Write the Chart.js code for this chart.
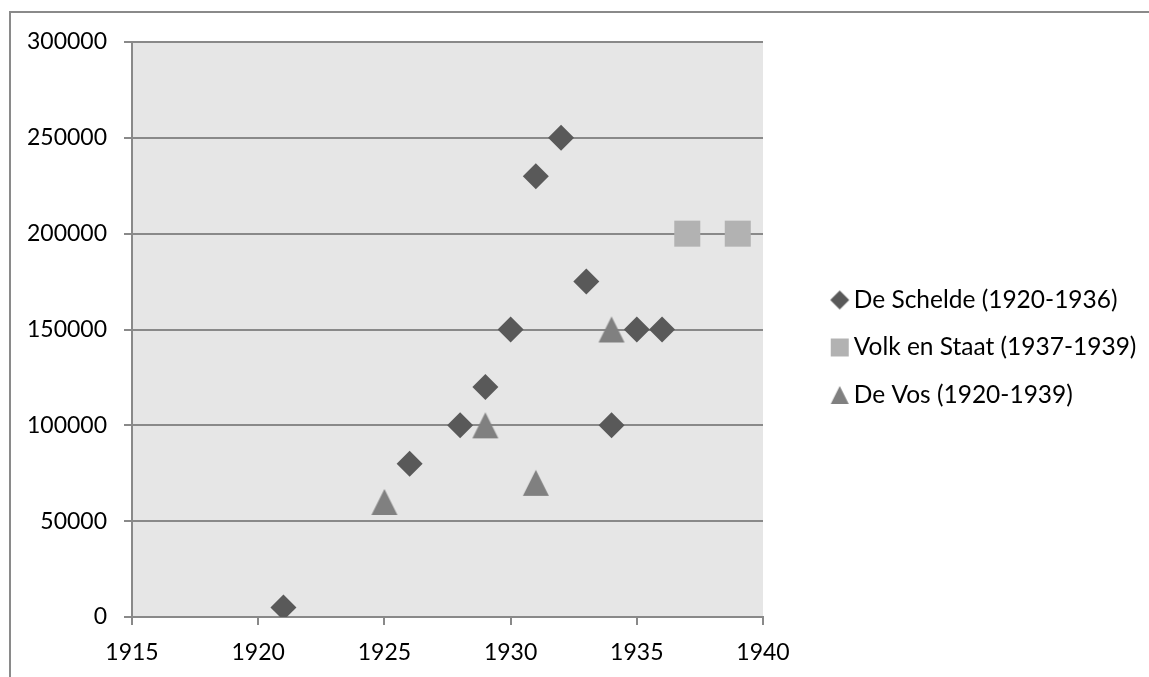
<!DOCTYPE html>
<html>
<head>
<meta charset="utf-8">
<script src="https://cdn.jsdelivr.net/npm/chart.js@4.4.1/dist/chart.umd.min.js"></script>
<style>
  html, body { margin: 0; padding: 0; background: #fff; overflow: hidden; }
  .wrap { position: relative; width: 1149px; height: 677px; }
  .frame { position: absolute; left: 9px; top: 11px; width: 1160px; height: 700px; border: 2px solid #8a8a8a; }
  canvas { position: absolute; left: 0; top: 0; }
</style>
</head>
<body>
<div class="wrap">
  <div class="frame"></div>
  <canvas id="chart" width="1149" height="677"></canvas>
</div>
<script>
  // series values
  const scheldeYears = [1921, 1926, 1928, 1929, 1930, 1931, 1932, 1933, 1934, 1935, 1936];
  const scheldeValues = [5000, 80000, 100000, 120000, 150000, 230000, 250000, 175000, 100000, 150000, 150000];
  const volkYears = [1937, 1939];
  const volkValues = [200000, 200000];
  const vosYears = [1925, 1929, 1931, 1934];
  const vosValues = [60000, 100000, 70000, 150000];

  const seriesNames = ['De Schelde (1920-1936)', 'Volk en Staat (1937-1939)', 'De Vos (1920-1939)'];
  const seriesColors = ['#595959', '#b2b2b2', '#808080'];

  const xTicks = [1915, 1920, 1925, 1930, 1935, 1940];
  const yTicks = [0, 50000, 100000, 150000, 200000, 250000, 300000];

  const FONT = 'Lato';
  const FONT_SIZE = 23;
  const LEGEND_SIZE = 24.5;
  const GRID = '#898989';

  function toPoints(xs, ys) {
    return xs.map((x, i) => ({x: x, y: ys[i]}));
  }

  // draws a small marker into its own canvas, so it can be used as pointStyle
  function markerImage(shape, color, size, shift) {
    const c = document.createElement('canvas');
    c.width = size + 2 * Math.abs(shift) + 2;
    c.height = size + 2;
    const g = c.getContext('2d');
    const cx = c.width / 2 + shift;
    const cy = c.height / 2;
    const h = size / 2;
    g.fillStyle = color;
    g.beginPath();
    if (shape === 'diamond') {
      g.moveTo(cx, cy - h); g.lineTo(cx + h, cy); g.lineTo(cx, cy + h); g.lineTo(cx - h, cy);
    } else if (shape === 'square') {
      g.rect(cx - h, cy - h, size, size);
    } else {
      g.moveTo(cx, cy - h); g.lineTo(cx + h, cy + h); g.lineTo(cx - h, cy + h);
    }
    g.closePath();
    g.fill();
    return c;
  }

  const legendMarkers = [
    markerImage('diamond', seriesColors[0], 19, 10.5),
    markerImage('square', seriesColors[1], 18, 10.5),
    markerImage('triangle', seriesColors[2], 18, 10.5)
  ];

  // legend box geometry, so the text lands where it does in the picture
  const legendPad = 23;
  const legendLeft = 794;
  const measure = document.createElement('canvas').getContext('2d');
  measure.font = LEGEND_SIZE + 'px ' + FONT;
  const textWidth = Math.max(...seriesNames.map(t => measure.measureText(t).width));
  const legendWidth = legendPad + LEGEND_SIZE + LEGEND_SIZE / 2 + textWidth + 10;
  const rightPad = Math.max(0, 1149 - legendLeft - legendWidth);

  const plotBackground = {
    id: 'plotBackground',
    beforeDraw(chart) {
      const a = chart.chartArea;
      const ctx = chart.ctx;
      ctx.save();
      ctx.fillStyle = '#e6e6e6';
      ctx.fillRect(a.left, a.top, a.right - a.left, a.bottom - a.top);
      ctx.restore();
    }
  };

  // empty axes that only hold space
  function spacer(position, size) {
    return {
      position: position,
      display: true,
      grid: {display: false},
      border: {display: false},
      ticks: {display: false},
      afterFit: s => {
        if (s.isHorizontal()) s.height = size; else s.width = size;
      }
    };
  }

  new Chart(document.getElementById('chart'), {
    type: 'scatter',
    data: {
      datasets: [
        {
          label: seriesNames[0],
          data: toPoints(scheldeYears, scheldeValues),
          pointStyle: 'rectRot',
          pointRadius: 13,
          backgroundColor: seriesColors[0],
          borderWidth: 0
        },
        {
          label: seriesNames[1],
          data: toPoints(volkYears, volkValues),
          pointStyle: 'rect',
          pointRadius: 18.4,
          backgroundColor: seriesColors[1],
          borderWidth: 0
        },
        {
          label: seriesNames[2],
          data: toPoints(vosYears, vosValues),
          pointStyle: markerImage('triangle', seriesColors[2], 26, 0),
          backgroundColor: seriesColors[2],
          borderWidth: 0
        }
      ]
    },
    options: {
      responsive: false,
      animation: false,
      devicePixelRatio: 1,
      events: [],
      layout: {
        padding: {left: 0, top: 18, right: rightPad, bottom: 0}
      },
      plugins: {
        tooltip: {enabled: false},
        legend: {
          position: 'right',
          maxWidth: 500,
          labels: {
            usePointStyle: true,
            padding: legendPad,
            color: '#000',
            font: {family: FONT, size: LEGEND_SIZE},
            generateLabels: chart => chart.data.datasets.map((ds, i) => ({
              text: ds.label,
              fillStyle: seriesColors[i],
              strokeStyle: seriesColors[i],
              lineWidth: 0,
              pointStyle: legendMarkers[i],
              hidden: false,
              datasetIndex: i
            }))
          }
        }
      },
      scales: {
        x: {
          type: 'linear',
          position: 'bottom',
          min: xTicks[0],
          max: xTicks[xTicks.length - 1],
          afterBuildTicks: s => { s.ticks = xTicks.map(v => ({value: v})); },
          afterFit: s => { s.height = 60; },
          grid: {
            drawOnChartArea: false,
            color: GRID,
            lineWidth: 2,
            tickLength: 8
          },
          border: {color: GRID, width: 2},
          ticks: {
            padding: 14,
            color: '#000',
            font: {family: FONT, size: FONT_SIZE},
            maxRotation: 0,
            callback: v => String(v)
          }
        },
        y: {
          position: 'left',
          min: yTicks[0],
          max: yTicks[yTicks.length - 1],
          afterBuildTicks: s => { s.ticks = yTicks.map(v => ({value: v})); },
          afterFit: s => { s.width = 132; },
          grid: {
            color: GRID,
            lineWidth: 2,
            tickLength: 8
          },
          border: {color: GRID, width: 2},
          ticks: {
            padding: 17,
            color: '#000',
            font: {family: FONT, size: FONT_SIZE},
            callback: v => String(v)
          }
        },
        gapRight: Object.assign({axis: 'y'}, spacer('right', 31)),
        gapTop: Object.assign({axis: 'x'}, spacer('top', 24))
      }
    },
    plugins: [plotBackground]
  });
</script>
</body>
</html>
